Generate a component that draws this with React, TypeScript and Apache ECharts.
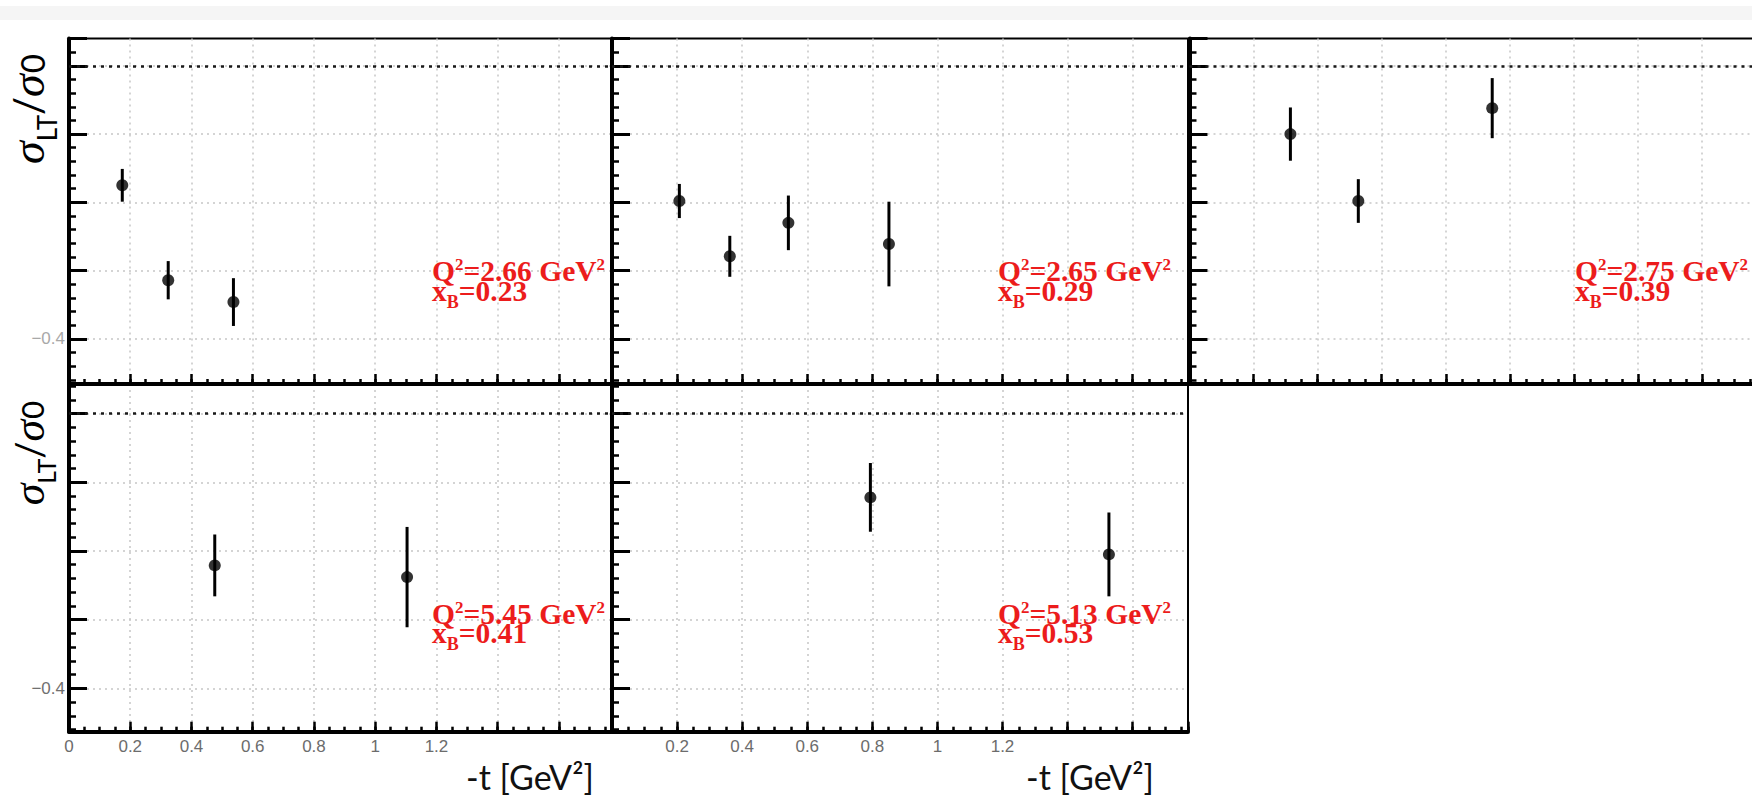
import React, { useEffect, useRef } from "react";
import * as echarts from "echarts";

// ---------------- data ----------------
// -t [GeV^2], sigma_LT/sigma0 and its error, one set per panel
const P1_T = [0.174, 0.324, 0.537];
const P1_R = [-0.175, -0.314, -0.346];
const P1_E = [0.024, 0.028, 0.035];

const P2_T = [0.207, 0.362, 0.542, 0.851];
const P2_R = [-0.198, -0.279, -0.23, -0.261];
const P2_E = [0.025, 0.03, 0.04, 0.062];

const P3_T = [0.315, 0.527, 0.945];
const P3_R = [-0.1, -0.198, -0.062];
const P3_E = [0.039, 0.032, 0.044];

const P4_T = [0.476, 1.104];
const P4_R = [-0.221, -0.238];
const P4_E = [0.045, 0.073];

const P5_T = [0.794, 1.527];
const P5_R = [-0.122, -0.205];
const P5_E = [0.05, 0.061];

const Q2_VALUES = ["2.66", "2.65", "2.75", "5.45", "5.13"];
const XB_VALUES = ["0.23", "0.29", "0.39", "0.41", "0.53"];

const X_LABELS_LEFT = ["0", "0.2", "0.4", "0.6", "0.8", "1", "1.2"];
const X_LABELS_MID = ["0.2", "0.4", "0.6", "0.8", "1", "1.2"];
const Y_LABEL_VALUES = [-0.4];

const X_RANGE = [0, 1.77];
const Y_RANGE_TOP = [-0.466, 0.04];
const Y_RANGE_BOTTOM = [-0.463, 0.043];

// ---------------- layout ----------------
const GRIDS = [
  { left: 69, top: 38.5, width: 542, height: 345.5 },
  { left: 612, top: 38.5, width: 576, height: 345.5 },
  { left: 1189.5, top: 38.5, width: 567, height: 345.5 },
  { left: 69, top: 384, width: 542, height: 347.7 },
  { left: 612, top: 384, width: 576, height: 347.7 },
];

const PANELS = [
  { t: P1_T, r: P1_R, e: P1_E, row: 0, xLabels: null as string[] | null, yLabels: true, yLabelColor: "#a8a8a8", labelX: 432 },
  { t: P2_T, r: P2_R, e: P2_E, row: 0, xLabels: null as string[] | null, yLabels: false, yLabelColor: "#707070", labelX: 998 },
  { t: P3_T, r: P3_R, e: P3_E, row: 0, xLabels: null as string[] | null, yLabels: false, yLabelColor: "#707070", labelX: 1575 },
  { t: P4_T, r: P4_R, e: P4_E, row: 1, xLabels: X_LABELS_LEFT, yLabels: true, yLabelColor: "#707070", labelX: 432 },
  { t: P5_T, r: P5_R, e: P5_E, row: 1, xLabels: X_LABELS_MID, yLabels: false, yLabelColor: "#707070", labelX: 998 },
];

const ROW_BASELINES = [
  { q: 281, x: 300 },
  { q: 624, x: 642 },
];

const RED = "#ec1c1c";
const GRID_LINE = { color: "#c6c6c6", width: 1.5, type: [2, 4] as number[] };

function fmtNum(v: number) {
  return String(Math.round(v * 100) / 100);
}

function buildOption() {
  const grid: any[] = [];
  const xAxis: any[] = [];
  const yAxis: any[] = [];
  const series: any[] = [];
  const graphic: any[] = [];

  PANELS.forEach((p, i) => {
    const g = GRIDS[i];
    const yr = p.row === 0 ? Y_RANGE_TOP : Y_RANGE_BOTTOM;
    grid.push({
      ...g,
      show: true,
      borderColor: "#000",
      borderWidth: 2,
      backgroundColor: "transparent",
      containLabel: false,
      outerBoundsMode: "none",
    });

    // main x axis: major ticks, grid lines, labels
    xAxis.push({
      type: "value",
      gridIndex: i,
      min: X_RANGE[0],
      max: X_RANGE[1],
      splitNumber: 9,
      position: "bottom",
      axisLine: { show: true, onZero: false, lineStyle: { color: "#000", width: 4 } },
      axisTick: { show: true, inside: true, length: 10, lineStyle: { color: "#000", width: 2.5 } },
      axisLabel: {
        show: !!p.xLabels,
        margin: 6,
        color: "#6c6c6c",
        fontSize: 17,
        fontFamily: "Liberation Sans",
        formatter: (v: number) => {
          const s = fmtNum(v);
          return p.xLabels && p.xLabels.includes(s) ? s : "";
        },
      },
      splitLine: { show: true, showMinLine: false, showMaxLine: false, lineStyle: GRID_LINE },
    });
    // minor x ticks
    xAxis.push({
      type: "value",
      gridIndex: i,
      min: X_RANGE[0],
      max: X_RANGE[1],
      splitNumber: 35,
      position: "bottom",
      axisLine: { show: false, onZero: false },
      axisTick: { show: true, inside: true, length: 5, lineStyle: { color: "#000", width: 2.5 } },
      axisLabel: { show: false },
      splitLine: { show: false },
    });

    yAxis.push({
      type: "value",
      gridIndex: i,
      min: yr[0],
      max: yr[1],
      splitNumber: 5,
      position: "left",
      axisLine: { show: true, onZero: false, lineStyle: { color: "#000", width: 4 } },
      axisTick: { show: true, inside: true, length: 18, lineStyle: { color: "#000", width: 3 } },
      axisLabel: {
        show: p.yLabels,
        margin: 4,
        color: p.yLabelColor,
        fontSize: 17,
        fontFamily: "Liberation Sans",
        formatter: (v: number) => {
          const hit = Y_LABEL_VALUES.find((y) => Math.abs(y - v) < 1e-6);
          return hit !== undefined ? "\u2212" + fmtNum(Math.abs(hit)) : "";
        },
      },
      splitLine: { show: true, showMinLine: false, showMaxLine: false, lineStyle: GRID_LINE },
    });
    yAxis.push({
      type: "value",
      gridIndex: i,
      min: yr[0],
      max: yr[1],
      splitNumber: 25,
      position: "left",
      axisLine: { show: false, onZero: false },
      axisTick: { show: true, inside: true, length: 7, lineStyle: { color: "#000", width: 2.5 } },
      axisLabel: { show: false },
      splitLine: { show: false },
    });

    series.push({
      type: "custom",
      xAxisIndex: 2 * i,
      yAxisIndex: 2 * i,
      z: 4,
      silent: true,
      data: p.t.map((t, k) => [t, p.r[k] - p.e[k], p.r[k] + p.e[k]]),
      encode: { x: 0, y: [1, 2] },
      renderItem: (_params: any, api: any) => {
        const x = api.value(0);
        const a = api.coord([x, api.value(1)]);
        const b = api.coord([x, api.value(2)]);
        return {
          type: "line",
          shape: { x1: a[0], y1: a[1], x2: b[0], y2: b[1] },
          style: { stroke: "#000", lineWidth: 3 },
        };
      },
    });
    series.push({
      type: "scatter",
      xAxisIndex: 2 * i,
      yAxisIndex: 2 * i,
      z: 5,
      silent: true,
      symbol: "circle",
      symbolSize: 12,
      itemStyle: { color: "#000" },
      data: p.t.map((t, k) => [t, p.r[k]]),
      markLine: {
        silent: true,
        symbol: ["none", "none"],
        label: { show: false },
        lineStyle: { color: "#1a1a1a", width: 2.5, type: [3, 5] },
        data: [{ yAxis: 0 }],
      },
    });

    // kinematics annotation
    const bl = ROW_BASELINES[p.row];
    graphic.push({
      type: "text",
      x: p.labelX,
      y: bl.q - 25.3,
      z: 10,
      style: {
        text: `{a|Q}{s|2}{a|=${Q2_VALUES[i]} GeV}{s|2}`,
        align: "left",
        verticalAlign: "top",
        rich: {
          a: { fontSize: 29.5, fontWeight: "bold", fontFamily: "Liberation Serif", fill: RED, lineHeight: 30, verticalAlign: "bottom" },
          s: { fontSize: 17, fontWeight: "bold", fontFamily: "Liberation Serif", fill: RED, verticalAlign: "top" },
        },
      },
    });
    graphic.push({
      type: "text",
      x: p.labelX,
      y: bl.x - 24.3,
      z: 10,
      style: {
        text: `{a|x}{b|B}{a|=${XB_VALUES[i]}}`,
        align: "left",
        verticalAlign: "top",
        rich: {
          a: { fontSize: 29.5, fontWeight: "bold", fontFamily: "Liberation Serif", fill: RED, lineHeight: 35, verticalAlign: "top" },
          b: { fontSize: 18, fontWeight: "bold", fontFamily: "Liberation Serif", fill: RED, verticalAlign: "bottom" },
        },
      },
    });
  });

  // faint band at the very top
  graphic.push({
    type: "rect",
    shape: { x: 0, y: 6, width: 1752, height: 14 },
    style: { fill: "#f5f5f5" },
    z: 0,
  });

  // y-axis titles: sigma_LT / sigma_0, rotated to read bottom-to-top
  const yTitle = (cy: number, k: number) => ({
    type: "text",
    x: 28 + (1 - k) * 15,
    y: cy,
    rotation: Math.PI / 2,
    z: 10,
    style: {
      text: "{s|\u03c3}{sub|LT}{n|/}{s|\u03c3}{d|0}",
      align: "center",
      verticalAlign: "middle",
      rich: {
        s: { fontSize: 46 * k, fontStyle: "italic", fontFamily: "Liberation Serif", fill: "#000", lineHeight: 64 * k, verticalAlign: "middle" },
        n: { fontSize: 40 * k, fontFamily: "Lato", fill: "#000", lineHeight: 64 * k, verticalAlign: "middle" },
        d: { fontSize: 33 * k, fontFamily: "Lato", fill: "#000", lineHeight: 64 * k, verticalAlign: "middle", padding: [7 * k, 0, 0, 1] },
        sub: { fontSize: 26 * k, fontFamily: "Lato", fill: "#000", verticalAlign: "bottom" },
      },
    },
  });
  graphic.push(yTitle(109, 1.0));
  graphic.push(yTitle(453, 0.95));

  // x-axis titles
  [466, 1026].forEach((x) => {
    graphic.push({
      type: "text",
      x,
      y: 776,
      z: 10,
      style: {
        text: "-t [GeV\u00b2]",
        fontSize: 34,
        fontFamily: "Lato",
        fill: "#111",
        align: "left",
        verticalAlign: "middle",
      },
    });
  });

  return {
    animation: false,
    backgroundColor: "#fff",
    grid,
    xAxis,
    yAxis,
    series,
    graphic,
  };
}

export default function App() {
  const ref = useRef<HTMLDivElement>(null);
  useEffect(() => {
    document.body.style.margin = "0";
    const chart = echarts.init(ref.current!, undefined, { renderer: "svg" });
    chart.setOption(buildOption() as any);
    return () => chart.dispose();
  }, []);
  return <div ref={ref} style={{ width: 1752, height: 795, overflow: "hidden" }} />;
}
